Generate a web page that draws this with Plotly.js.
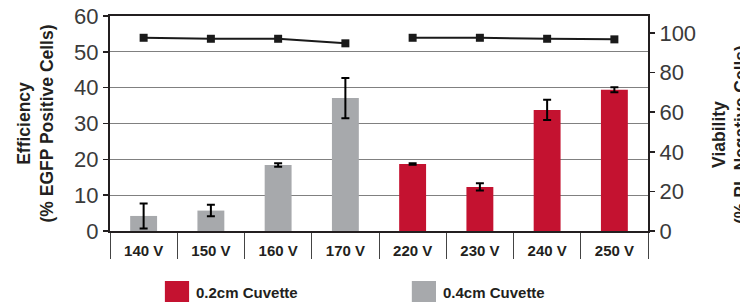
<!DOCTYPE html>
<html><head><meta charset="utf-8">
<script src="https://cdn.plot.ly/plotly-3.0.1.min.js"></script>
<style>html,body{margin:0;padding:0;background:#fff}#chart{width:740px;height:302px}</style>
</head><body><div id="chart"></div>
<script>
var categories = ['140 V','150 V','160 V','170 V','220 V','230 V','240 V','250 V'];
var cat04 = ['140 V','150 V','160 V','170 V'];
var cat02 = ['220 V','230 V','240 V','250 V'];
var eff04 = [4.2, 5.7, 18.4, 37.1];
var eff04Err = [3.5, 1.6, 0.5, 5.6];
var eff02 = [18.7, 12.3, 33.8, 39.4];
var eff02Err = [0.2, 1.0, 2.8, 0.7];
var via04 = [97.6, 97.1, 97.1, 94.8];
var via02 = [97.6, 97.6, 97.1, 96.8];
var leftTicks = [0,10,20,30,40,50,60];
var rightTicks = [0,20,40,60,80,100];

var RED = '#c41230', GRAY = '#a7a9ac';
var bold = {family:'"Liberation Sans", Arial, sans-serif', size:15, color:'#231f20', weight:700};
var titleFont = {family:'"Liberation Sans", Arial, sans-serif', size:17.5, color:'#231f20', weight:700};
var numFont = {family:'"Liberation Sans", Arial, sans-serif', size:22, color:'#3a3a3a'};

var traces = [
  {type:'bar', x:cat04, y:eff04, marker:{color:GRAY}, width:0.4, name:'0.4cm Cuvette', showlegend:false,
   error_y:{type:'data', array:eff04Err, visible:true, color:'#000', thickness:2, width:4}},
  {type:'bar', x:cat02, y:eff02, marker:{color:RED}, width:0.4, name:'0.2cm Cuvette', showlegend:false,
   error_y:{type:'data', array:eff02Err, visible:true, color:'#000', thickness:2, width:4}},
  {type:'scatter', mode:'lines+markers', x:cat04, y:via04, yaxis:'y2', showlegend:false,
   line:{color:'#1a1a1a', width:2}, marker:{symbol:'square', size:8, color:'#1a1a1a'}},
  {type:'scatter', mode:'lines+markers', x:cat02, y:via02, yaxis:'y2', showlegend:false,
   line:{color:'#1a1a1a', width:2}, marker:{symbol:'square', size:8, color:'#1a1a1a'}}
];

var layout = {
  width:740, height:302,
  margin:{l:110, r:92, t:16, b:71},
  paper_bgcolor:'#fff', plot_bgcolor:'#fff',
  barmode:'overlay',
  showlegend:false,
  xaxis:{type:'category', categoryorder:'array', categoryarray:categories, range:[-0.5,7.5],
    showline:true, mirror:true, linecolor:'#231f20', linewidth:2,
    ticks:'outside', tickson:'boundaries', ticklen:26, tickwidth:1, tickcolor:'#444',
    ticklabelstandoff:5, tickfont:bold, showgrid:false, zeroline:false, fixedrange:true},
  yaxis:{range:[0,60], tickvals:leftTicks, ticks:'outside', ticklen:5, tickcolor:'#231f20', tickwidth:1.5,
    showline:true, linecolor:'#231f20', linewidth:2,
    showgrid:true, gridcolor:'#808080', gridwidth:1.2, zeroline:false,
    tickfont:numFont,
    title:{text:'Efficiency<br>(% EGFP Positive Cells)', font:titleFont, standoff:16}},
  yaxis2:{overlaying:'y', side:'right', range:[0,108.6], tickvals:rightTicks, ticks:'outside', ticklen:5,
    tickcolor:'#231f20', tickwidth:1.5, showline:true, linecolor:'#231f20', linewidth:2,
    showgrid:false, zeroline:false,
    tickfont:numFont},
  shapes:[
    {type:'rect', xref:'paper', yref:'paper', x0:0.102, x1:0.147, y0:-0.335, y1:-0.2326, fillcolor:RED, line:{width:0}},
    {type:'rect', xref:'paper', yref:'paper', x0:0.561, x1:0.606, y0:-0.335, y1:-0.2326, fillcolor:GRAY, line:{width:0}}
  ],
  annotations:[
    {xref:'paper', yref:'paper', x:0.156, y:-0.284, xanchor:'left', yanchor:'middle', showarrow:false, text:'0.2cm Cuvette', font:bold},
    {xref:'paper', yref:'paper', x:0.615, y:-0.284, xanchor:'left', yanchor:'middle', showarrow:false, text:'0.4cm Cuvette', font:bold},
    {xref:'paper', yref:'paper', x:1.152, y:0.45, xanchor:'center', yanchor:'middle', textangle:-90, showarrow:false,
     text:'Viability<br>(% PI- Negative Cells)', font:titleFont}
  ]
};
Plotly.newPlot('chart', traces, layout, {staticPlot:true, displayModeBar:false});
</script></body></html>
